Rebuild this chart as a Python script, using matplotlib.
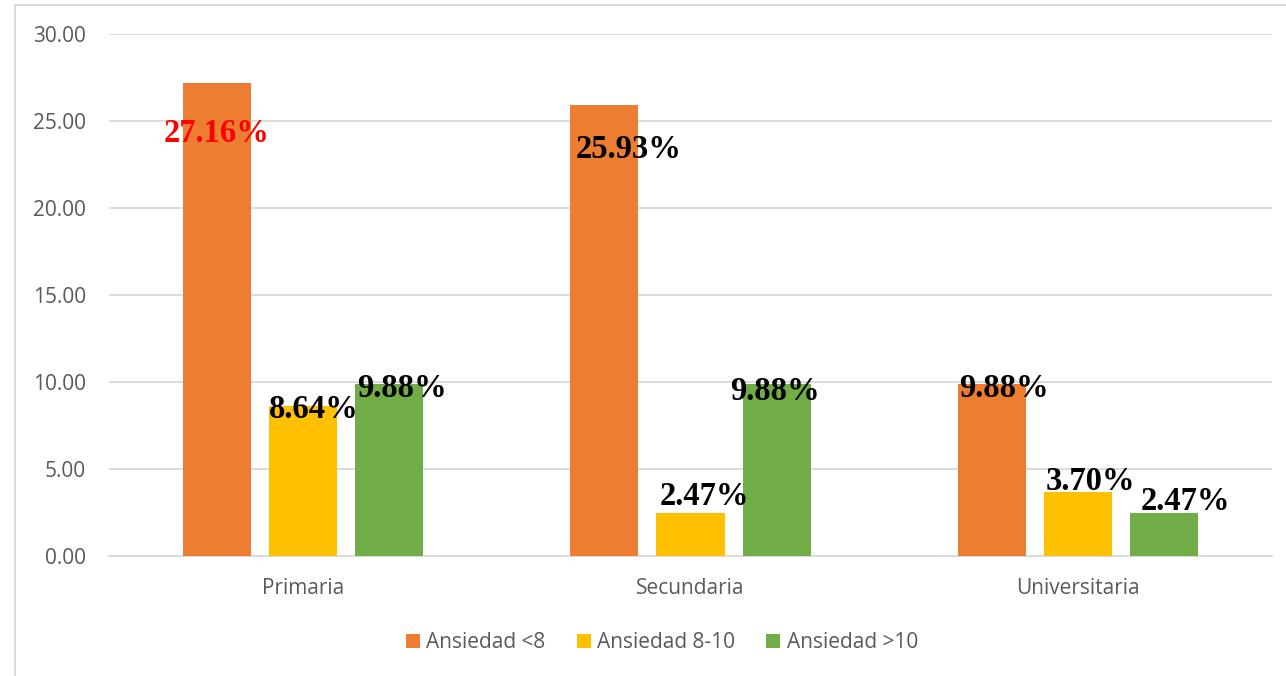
import matplotlib
matplotlib.use("Agg")
import matplotlib.pyplot as plt
import numpy as np
from matplotlib.patches import Rectangle

categories = ["Primaria", "Secundaria", "Universitaria"]
series_names = ["Ansiedad <8", "Ansiedad 8-10", "Ansiedad >10"]
ans_lt8 = [27.16, 25.93, 9.88]
ans_8_10 = [8.64, 2.47, 3.70]
ans_gt10 = [9.88, 9.88, 2.47]
# data labels as shown, per series then category
label_texts = [["27.16%", "25.93%", "9.88%"],
               ["8.64%", "2.47%", "3.70%"],
               ["9.88%", "9.88%", "2.47%"]]
yticks = [0, 5, 10, 15, 20, 25, 30]

colors = ["#ED7D31", "#FFC000", "#70AD47"]
label_colors = [["#FF0000", "black", "black"],
                ["black", "black", "black"],
                ["black", "black", "black"]]
# label placement: x offset from bar centre (category units), baseline y (data units)
label_dx = [[0.0, 0.061, 0.031],
            [0.028, 0.037, 0.031],
            [0.034, -0.004, 0.054]]
label_base = [[23.79, 22.87, 9.14],
              [7.93, 2.93, 3.79],
              [9.14, 8.97, 2.64]]

W, H = 1286, 676
fig = plt.figure(figsize=(W / 100, H / 100), dpi=100)
ax = fig.add_axes([109 / W, 1 - 556 / H, (1272 - 109) / W, (556 - 34) / H])

x = np.arange(len(categories))
width = 68 / 387.5
step = 86 / 387.5
all_vals = [ans_lt8, ans_8_10, ans_gt10]
for i, vals in enumerate(all_vals):
    ax.bar(x + (i - 1) * step, vals, width, color=colors[i], label=series_names[i], zorder=3)
    for j, v in enumerate(vals):
        ax.text(x[j] + (i - 1) * step + label_dx[i][j], label_base[i][j], label_texts[i][j],
                ha="center", va="baseline", fontsize=23.5, fontweight="bold",
                family="Liberation Serif", color=label_colors[i][j], zorder=4)

ax.set_xlim(-0.5, 2.5)
ax.set_ylim(0, 30)
ax.set_yticks(yticks)
ax.set_yticklabels([f"{t:.2f}" for t in yticks])
ax.set_xticks(x)
ax.set_xticklabels(categories)
ax.grid(axis="y", color="#D9D9D9", linewidth=1.3, zorder=0)
for s in ax.spines.values():
    s.set_visible(False)
ax.spines["bottom"].set_visible(True)
ax.spines["bottom"].set_color("#D9D9D9")
ax.spines["bottom"].set_linewidth(1.3)
ax.tick_params(axis="both", length=0, labelsize=15, labelcolor="#595959")
ax.tick_params(axis="y", pad=16.5)
ax.tick_params(axis="x", pad=15.5)
for lab in ax.get_xticklabels() + ax.get_yticklabels():
    lab.set_family("Open Sans")

leg = fig.legend(loc="center", bbox_to_anchor=(662 / W, 1 - 643 / H), ncol=3, frameon=False,
                 prop={"family": "Open Sans", "size": 15}, handlelength=0.67, handleheight=0.67,
                 handletextpad=0.3, columnspacing=1.5)
for t in leg.get_texts():
    t.set_color("#595959")

fig.patches.append(Rectangle((14.5 / W, -0.1), 1.2, 1 - 5 / H + 0.1, transform=fig.transFigure,
                             fill=False, edgecolor="#D9D9D9", linewidth=1.3))

fig.savefig("out.png", dpi=100)
